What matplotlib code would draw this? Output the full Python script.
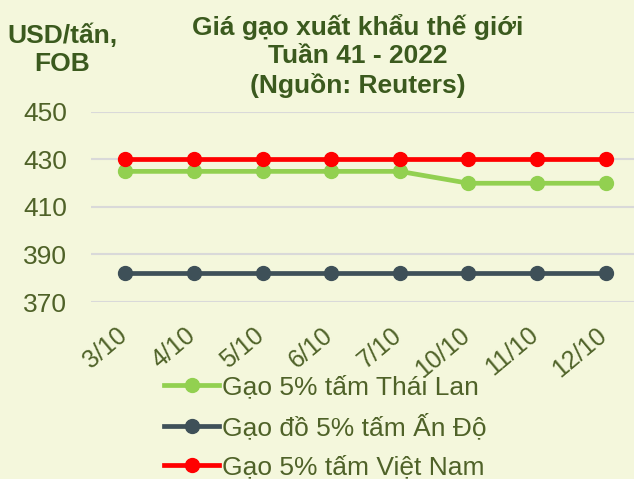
import matplotlib.pyplot as plt
import matplotlib.transforms as mtransforms

dates = ["3/10", "4/10", "5/10", "6/10", "7/10", "10/10", "11/10", "12/10"]
thai = [425, 425, 425, 425, 425, 420, 420, 420]
india = [382, 382, 382, 382, 382, 382, 382, 382]
vietnam = [430, 430, 430, 430, 430, 430, 430, 430]
yticks = [370, 390, 410, 430, 450]

bg = "#F4F7DC"
txt = "#4F6228"
title_col = "#3B5A1E"

plt.rcParams["font.family"] = ["Liberation Sans", "DejaVu Sans"]

fig = plt.figure(figsize=(6.34, 4.79), dpi=100, facecolor=bg)
ax = fig.add_axes([91 / 634, 1 - 302 / 479, 549 / 634, 190 / 479])
ax.set_facecolor(bg)

x = range(len(dates))
ax.plot(x, thai, color="#92D050", lw=3.4, marker="o", ms=10, label="Gạo 5% tấm Thái Lan", zorder=3)
ax.plot(x, india, color="#3E5058", lw=3.4, marker="o", ms=10, label="Gạo đồ 5% tấm Ấn Độ", zorder=3)
ax.plot(x, vietnam, color="#FF0000", lw=3.4, marker="o", ms=10, label="Gạo 5% tấm Việt Nam", zorder=4)

ax.set_xlim(-0.5, len(dates) - 0.5)
ax.set_ylim(370, 450)
ax.set_yticks(yticks)
ax.set_xticks(list(x))
ax.set_xticklabels(dates, rotation=40, ha="right")
ax.tick_params(axis="y", length=0, pad=17, labelsize=19, labelcolor=txt)
ax.tick_params(axis="x", length=0, pad=15, labelsize=18, labelcolor=txt)
# nudge the rotated date labels a little to the right, as in the original
shift = mtransforms.ScaledTranslation(6 / 100, 0, fig.dpi_scale_trans)
for lbl in ax.get_xticklabels():
    lbl.set_transform(lbl.get_transform() + shift)
ax.grid(axis="y", color="#D9D9D9", lw=1.5, zorder=0)
for s in ax.spines.values():
    s.set_visible(False)

fig.text(358 / 634, 1 - 56 / 479, "Giá gạo xuất khẩu thế giới\nTuần 41 - 2022\n(Nguồn: Reuters)",
         ha="center", va="center", fontsize=19, fontweight="bold", color=title_col, linespacing=1.25)
fig.text(62 / 634, 1 - 50 / 479, "USD/tấn,\nFOB", ha="center", va="center",
         fontsize=19, fontweight="bold", color=title_col, linespacing=1.2)

fig.legend(loc="upper left", bbox_to_anchor=(164 / 634, 1 - 375 / 479), frameon=False,
           fontsize=19, labelcolor=txt, handlelength=2.1, handletextpad=0.1,
           labelspacing=0.56, borderpad=0, borderaxespad=0)

fig.savefig("out.png", dpi=100, facecolor=bg)
